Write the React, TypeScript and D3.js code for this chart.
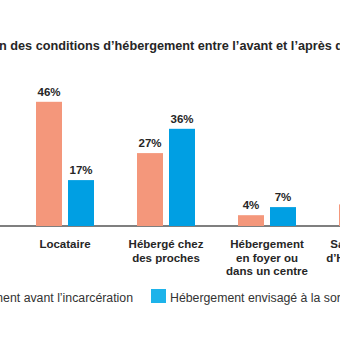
import React from "react";
import * as d3 from "d3";

const categories = ["Locataire", "Hébergé chez des proches", "Hébergement en foyer ou dans un centre", "Sans solution d’hébergement"];
const categoryLines = [["Locataire"], ["Hébergé chez", "des proches"], ["Hébergement", "en foyer ou", "dans un centre"], ["Sans solution", "d’Hébergement"]];
const series = ["Hébergement avant l’incarcération", "Hébergement envisagé à la sortie"];
const avant = [46, 27, 4, 8];
const sortie = [17, 36, 7, 11];
const colors = ["#F4977B", "#009FE3"];
const legendColors = ["#F4977B", "#1DB3EA"];

const W = 340, H = 340;
const FONT = "'Liberation Sans', Arial, sans-serif";

export default function App() {
  const x0 = d3.scaleBand<string>().domain(categories).range([14.5, 418.5]).paddingInner(43 / 101).paddingOuter(21.5 / 101);
  const x1 = d3.scaleBand<string>().domain(series).range([0, x0.bandwidth()]).paddingInner(6 / 32).paddingOuter(0);
  const y = d3.scaleLinear().domain([0, 50]).range([226, 226 - 135]);
  const values = [avant, sortie];

  return (
    <svg width={W} height={H} style={{ position: "absolute", left: 0, top: 0, background: "#fff" }} fontFamily={FONT}>
      <text x={-1} y={50} fontSize={12.7} fontWeight="bold" fill="#262626" textAnchor="end">Évolutio</text>
      <text x={-1} y={50} fontSize={12.7} fontWeight="bold" fill="#262626">n des conditions d’hébergement entre l’avant et l’après détention</text>

      <line x1={-50} x2={500} y1={y(0)} y2={y(0)} stroke="#555" strokeWidth={1.5} />

      {categories.map((c, i) => (
        <g key={c} transform={`translate(${x0(c)},0)`}>
          {series.map((s, j) => {
            const v = values[j][i];
            const bx = x1(s)!;
            return (
              <g key={s}>
                <rect x={bx} y={y(v)} width={x1.bandwidth()} height={y(0) - y(v)} fill={colors[j]} />
                <text x={bx + x1.bandwidth() / 2} y={y(v) - 6} textAnchor="middle" fontSize={11.5} fontWeight="bold" fill="#262626">{v}%</text>
              </g>
            );
          })}
          {categoryLines[i].map((ln, k) => (
            <text key={k} x={x0.bandwidth() / 2} y={248 + k * 13.5} textAnchor="middle" fontSize={11.5} fontWeight="bold" fill="#262626">{ln}</text>
          ))}
        </g>
      ))}

      <g>
        <rect x={-40} y={289} width={15} height={14} fill={legendColors[0]} />
        <text x={133} y={301.5} textAnchor="end" fontSize={12.3} fill="#333">{series[0]}</text>
        <rect x={151} y={289} width={15} height={14} fill={legendColors[1]} />
        <text x={170} y={301.5} fontSize={12.3} fill="#333">{series[1]}</text>
      </g>
    </svg>
  );
}
